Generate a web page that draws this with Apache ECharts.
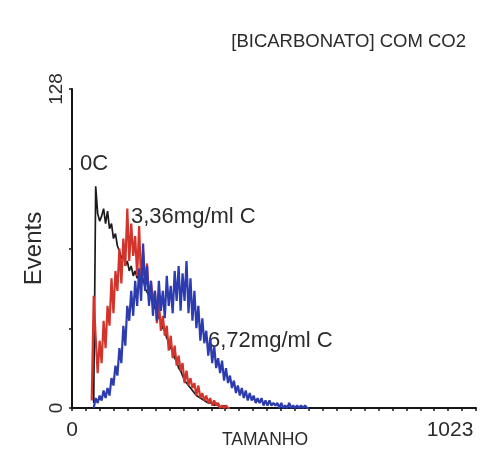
<!DOCTYPE html>
<html>
<head>
<meta charset="utf-8">
<script src="https://cdn.jsdelivr.net/npm/echarts/dist/echarts.min.js"></script>
<style>
  html, body { margin: 0; padding: 0; background: #fff; }
  #chart { width: 485px; height: 456px; }
</style>
</head>
<body>
<div id="chart"></div>
<script>
// Flow cytometry size histograms (events per channel, 5-channel bins)
const binWidth = 5;

const controlStart = 55;   // "0C"
const control = [
  2, 89, 78, 75, 77, 80, 74, 79, 72, 74, 68, 70, 65, 63, 60, 62, 57, 59, 55, 57,
  53, 55, 52, 54, 50, 52, 48, 48, 45, 44, 42, 40, 39, 36, 35, 32, 31, 28, 27, 24,
  23, 20, 19, 16, 15, 13, 11, 10, 9, 8, 7, 6, 5, 5, 4, 4, 3, 3, 2, 2,
  2, 1, 2, 1, 1, 0, 1, 0, 0
];

const c336Start = 50;      // "3,36mg/ml C"
const c336 = [
  3, 45, 28, 14, 27, 18, 35, 24, 41, 33, 52, 38, 55, 47, 64, 50, 68, 57, 80, 59,
  74, 61, 69, 53, 73, 50, 63, 49, 58, 43, 51, 42, 47, 34, 43, 31, 37, 29, 33, 23,
  29, 20, 25, 17, 21, 15, 18, 10, 15, 9, 12, 8, 10, 5, 9, 4, 6, 3, 5, 2,
  4, 1, 3, 1, 2, 0, 1, 0, 1, 0, 0
];

const c672Start = 55;      // "6,72mg/ml C"
const c672 = [
  0, 4, 2, 5, 3, 7, 4, 8, 5, 12, 9, 17, 13, 24, 18, 33, 25, 41, 35, 47,
  37, 51, 41, 56, 43, 66, 47, 57, 41, 51, 37, 47, 35, 51, 39, 47, 36, 53, 41, 49,
  38, 55, 43, 57, 39, 54, 43, 59, 38, 52, 35, 47, 32, 41, 27, 36, 26, 31, 21, 28,
  18, 25, 16, 20, 14, 19, 11, 16, 10, 13, 8, 11, 6, 9, 5, 8, 4, 7, 3, 6,
  3, 5, 2, 4, 2, 4, 1, 3, 1, 3, 1, 2, 1, 2, 0, 2, 0, 1, 0, 2,
  0, 1, 0, 1, 0, 1, 0, 1, 0, 0
];

const xTickLabels = ['0', '1023'];
const yTickLabels = ['0', '128'];
const xMax = 1023;
const yMax = 128;

function toPoints(start, values) {
  return values.map((v, i) => [start + i * binWidth, v]);
}

const chart = echarts.init(document.getElementById('chart'), null, { renderer: 'canvas' });
const FONT = '"Liberation Sans", Arial, sans-serif';
const axisColor = '#141414';
const textColor = '#2b2b2b';

chart.setOption({
  animation: false,
  backgroundColor: '#ffffff',
  title: {
    text: '[BICARBONATO] COM CO2',
    right: 14,
    top: 27,
    textStyle: { fontFamily: FONT, fontSize: 18.5, fontWeight: 'normal', color: textColor }
  },
  grid: { left: 72, right: 9, top: 89, bottom: 48, containLabel: false, outerBoundsMode: 'none' },
  xAxis: {
    type: 'value',
    min: 0,
    max: xMax,
    interval: xMax / 29,
    name: 'TAMANHO',
    nameLocation: 'middle',
    nameGap: 23,
    nameMoveOverlap: false,
    nameTextStyle: { fontFamily: FONT, fontSize: 17.5, color: textColor, padding: [0, 18, 0, 0] },
    axisLine: { show: true, lineStyle: { color: axisColor, width: 2 } },
    axisTick: { show: true, inside: false, length: 3, lineStyle: { color: axisColor, width: 1.5 } },
    splitLine: { show: false },
    axisLabel: {
      show: true,
      margin: 12,
      showMaxLabel: true,
      fontFamily: FONT,
      fontSize: 21,
      color: textColor,
      formatter: v => (v === 0 ? xTickLabels[0] : (Math.abs(v - xMax) < 0.5 ? '{end|' + xTickLabels[1] + '}' : '')),
      rich: {
        end: { fontFamily: FONT, fontSize: 21, color: textColor, padding: [0, 52, 0, 0] }
      }
    }
  },
  yAxis: {
    type: 'value',
    min: 0,
    max: yMax,
    interval: 32,
    name: 'Events',
    nameLocation: 'middle',
    nameRotate: 90,
    nameGap: 26,
    nameMoveOverlap: false,
    nameTextStyle: { fontFamily: FONT, fontSize: 24, color: textColor },
    axisLine: { show: true, lineStyle: { color: axisColor, width: 2 } },
    axisTick: { show: true, inside: false, length: 3, lineStyle: { color: axisColor, width: 1.5 } },
    splitLine: { show: false },
    axisLabel: {
      show: true,
      rotate: 90,
      margin: 6,
      fontFamily: FONT,
      fontSize: 19,
      color: textColor,
      formatter: v => (v === 0 ? yTickLabels[0] : (v === yMax ? yTickLabels[1] : ''))
    }
  },
  series: [
    {
      name: '0C',
      type: 'line',
      data: toPoints(controlStart, control),
      showSymbol: false,
      lineStyle: { color: '#1a1a1a', width: 1.7 },
      z: 2
    },
    {
      name: '3,36mg/ml C',
      type: 'line',
      data: toPoints(c336Start, c336),
      showSymbol: false,
      lineStyle: { color: '#d2342c', width: 2.2 },
      z: 3
    },
    {
      name: '6,72mg/ml C',
      type: 'line',
      data: toPoints(c672Start, c672),
      showSymbol: false,
      lineStyle: { color: '#2c3cae', width: 2.2 },
      z: 4
    }
  ],
  graphic: [
    { type: 'text', left: 80, top: 153, style: { text: '0C', font: '22px ' + FONT, fill: textColor } },
    { type: 'text', left: 131, top: 206, style: { text: '3,36mg/ml C', font: '22px ' + FONT, fill: textColor } },
    { type: 'text', left: 208, top: 330, style: { text: '6,72mg/ml C', font: '22px ' + FONT, fill: textColor } }
  ]
});
</script>
</body>
</html>
